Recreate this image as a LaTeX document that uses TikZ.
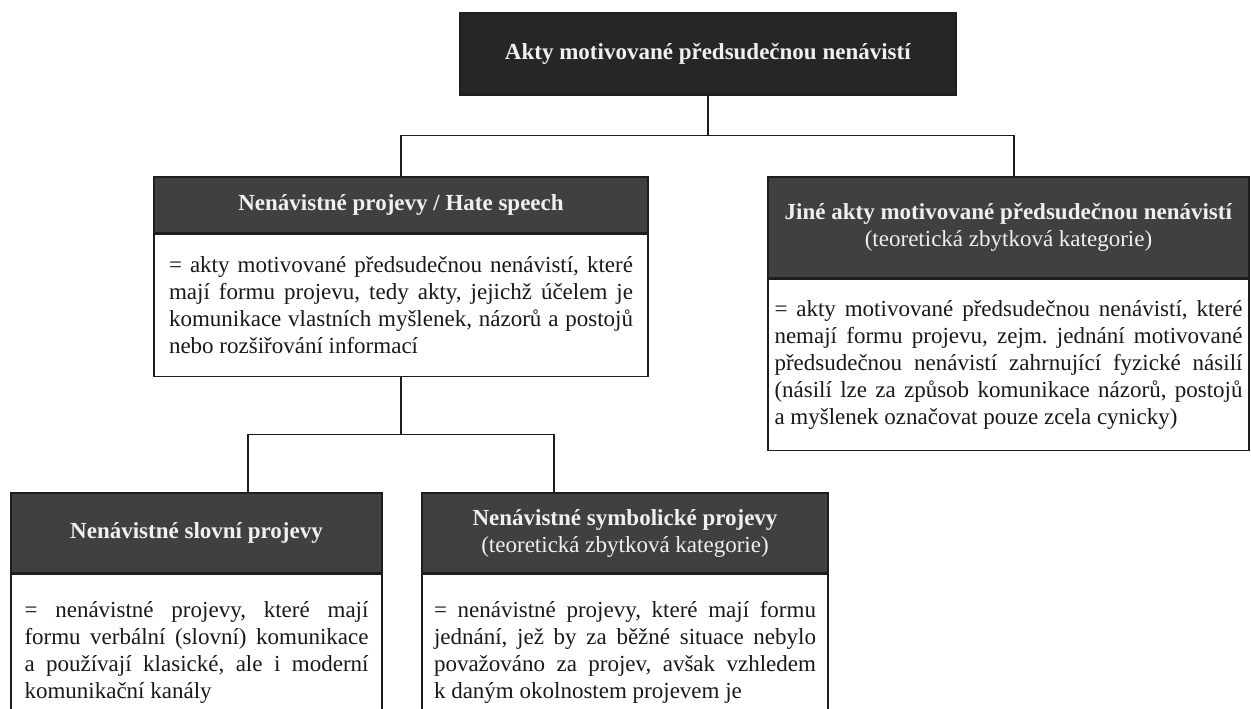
\documentclass[tikz,border=0pt]{standalone}
\usepackage{fontspec}
\setmainfont{Liberation Serif}
\usetikzlibrary{positioning}
\definecolor{topfill}{HTML}{262626}
\definecolor{headfill}{HTML}{404040}
\definecolor{edge}{HTML}{1E1E1E}
\frenchspacing
\tikzstyle{every node}=[draw=edge,line width=1.2pt,inner sep=0pt]
\tikzstyle{head}=[fill=headfill,text=white!94!black,align=center,font={\fontsize{23}{27}\selectfont}]
\tikzstyle{tophead}=[head,fill=topfill]
\tikzstyle{body}=[fill=white,text=black!90,align=justify,font={\fontsize{23}{27}\selectfont\hyphenpenalty=10000}]
\tikzstyle{link}=[draw=edge,line width=1.2pt]

\begin{document}
\begin{tikzpicture}[x=1pt,y=-1pt]
  \useasboundingbox (0,0) rectangle (1251,709);
  \clip (0,0) rectangle (1251,709);
  % top level
  \node [tophead,minimum width=496pt,minimum height=82pt] (akty) at (708,54)
    {\textbf{Akty motivované předsudečnou nenávistí}};
  % second level
  \node [head,minimum width=494pt,minimum height=56pt] (hatehead) at (401,205)
    {\textbf{Nenávistné projevy / Hate speech}};
  \node [body,below=0pt of hatehead,minimum width=494pt,minimum height=142pt,text width=464pt] (hatebody)
    {= akty motivované předsudečnou nenávistí, které\linebreak
     mají formu projevu, tedy akty, jejichž účelem je\linebreak
     komunikace vlastních myšlenek, názorů a postojů\linebreak
     nebo rozšiřování informací};
  \node [head,minimum width=481pt,minimum height=101pt] (jinehead) at (1008.5,227.5)
    {\textbf{Jiné akty motivované předsudečnou nenávistí}\\(teoretická zbytková kategorie)};
  \node [body,below=0pt of jinehead,minimum width=481pt,minimum height=171pt,text width=468pt] (jinebody)
    {= akty motivované předsudečnou nenávistí, které\linebreak
     nemají formu projevu, zejm. jednání motivované\linebreak
     předsudečnou nenávistí zahrnující fyzické násilí\linebreak
     (násilí lze za způsob komunikace názorů, postojů\linebreak
     a myšlenek označovat pouze zcela cynicky)};
  % third level
  \node [head,minimum width=371pt,minimum height=80pt] (slovnihead) at (196.5,533)
    {\textbf{Nenávistné slovní projevy}};
  \node [body,below=0pt of slovnihead,minimum width=371pt,minimum height=156pt,text width=344pt] (slovnibody)
    {= nenávistné projevy, které mají\linebreak
     formu verbální (slovní) komunikace\linebreak
     a používají klasické, ale i moderní\linebreak
     komunikační kanály};
  \node [head,minimum width=406pt,minimum height=80pt] (symbolhead) at (625,533)
    {\textbf{Nenávistné symbolické projevy}\\(teoretická zbytková kategorie)};
  \node [body,below=0pt of symbolhead,minimum width=406pt,minimum height=156pt,text width=382pt] (symbolbody)
    {= nenávistné projevy, které mají formu\linebreak
     jednání, jež by za běžné situace nebylo\linebreak
     považováno za projev, avšak vzhledem\linebreak
     k daným okolnostem projevem je};
  % connectors
  \draw [link] (akty.south) -- ++(0,40) coordinate (fork1);
  \draw [link] (fork1) -| (hatehead.north);
  \draw [link] (fork1) -| ([xshift=5.5pt]jinehead.north);
  \draw [link] (hatebody.south) -- ++(0,58) coordinate (fork2);
  \draw [link] (fork2) -| ([xshift=51.5pt]slovnihead.north);
  \draw [link] (fork2) -| ([xshift=-71pt]symbolhead.north);
\end{tikzpicture}
\end{document}
